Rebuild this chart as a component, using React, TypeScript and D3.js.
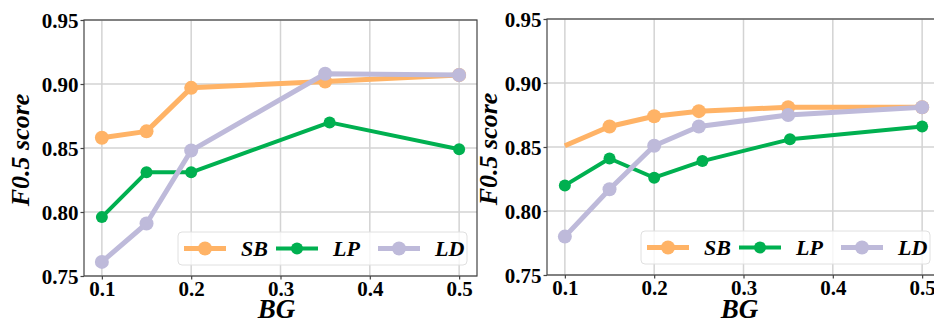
import React, { useEffect, useRef } from "react";
import * as d3 from "d3";

// x values (BG) per panel
const bgLeft = [0.1, 0.15, 0.2, 0.35, 0.5];
const bgLeftLP = [0.1, 0.15, 0.2, 0.355, 0.5];
const bgRight = [0.1, 0.15, 0.2, 0.25, 0.35, 0.5];
const bgRightLP = [0.1, 0.15, 0.2, 0.254, 0.352, 0.5];

// F0.5 scores, left panel
const sbLeft = [0.858, 0.863, 0.897, 0.902, 0.907];
const lpLeft = [0.796, 0.831, 0.831, 0.870, 0.849];
const ldLeft = [0.761, 0.791, 0.848, 0.908, 0.907];

// F0.5 scores, right panel
const sbRight = [0.851, 0.866, 0.874, 0.878, 0.881, 0.881];
const lpRight = [0.820, 0.841, 0.826, 0.839, 0.856, 0.866];
const ldRight = [0.780, 0.817, 0.851, 0.866, 0.875, 0.881];

const xTicks = [0.1, 0.2, 0.3, 0.4, 0.5];
const yTicks = [0.75, 0.8, 0.85, 0.9, 0.95];
const seriesNames = ["SB", "LP", "LD"];
const colors = ["#FFB366", "#00B050", "#BEBADA"];

const W = 934;
const H = 322;
const serif = "'Liberation Serif', 'Times New Roman', serif";

type Series = { name: string; xs: number[]; ys: number[]; noMarker?: number[] };

function drawPanel(
  svg: d3.Selection<SVGSVGElement, unknown, null, undefined>,
  left: number,
  top: number,
  labelOffset: number,
  series: Series[]
) {
  const pw = 393;
  const ph = 256;
  const g = svg.append("g").attr("transform", `translate(${left},${top})`);

  const x = d3.scaleLinear().domain([0.08, 0.52]).range([0, pw]);
  const y = d3.scaleLinear().domain([0.75, 0.95]).range([ph, 0]);

  // grid
  g.selectAll(".vgrid").data(xTicks).join("line").attr("class", "vgrid")
    .attr("x1", d => x(d)).attr("x2", d => x(d)).attr("y1", 0).attr("y2", ph)
    .attr("stroke", "#d3d3d3").attr("stroke-width", 1.5);
  g.selectAll(".hgrid").data(yTicks).join("line").attr("class", "hgrid")
    .attr("x1", 0).attr("x2", pw).attr("y1", d => y(d)).attr("y2", d => y(d))
    .attr("stroke", "#d3d3d3").attr("stroke-width", 1.5);

  // axes
  const xAxis = d3.axisBottom(x).tickValues(xTicks).tickFormat(d3.format(".1f")).tickSize(3.5).tickPadding(2);
  const yAxis = d3.axisLeft(y).tickValues(yTicks).tickFormat(d3.format(".2f")).tickSize(3.5).tickPadding(2);

  const gx = g.append("g").attr("transform", `translate(0,${ph})`).call(xAxis);
  const gy = g.append("g").call(yAxis);
  [gx, gy].forEach(a => {
    a.select(".domain").remove();
    a.selectAll(".tick line").attr("stroke", "#444").attr("stroke-width", 1.2);
    a.selectAll(".tick text")
      .style("font-family", serif).style("font-weight", "bold").style("font-size", "21px")
      .attr("fill", "#000");
  });
  gx.selectAll(".tick text").attr("dy", "0.71em");
  gy.selectAll(".tick text").attr("dy", "0.36em");

  // lines and markers
  const line = d3.line<[number, number]>().x(d => x(d[0])).y(d => y(d[1]));
  series.forEach((s, i) => {
    const pts: [number, number][] = s.xs.map((v, j) => [v, s.ys[j]]);
    const lw = s.name === "LP" ? 4 : 5;
    const r = s.name === "LP" ? 6 : 7;
    g.append("path").datum(pts).attr("d", line).attr("fill", "none")
      .attr("stroke", colors[i]).attr("stroke-width", lw).attr("stroke-linejoin", "round");
    g.selectAll(`.m${i}`).data(pts.filter((_, j) => !(s.noMarker || []).includes(j)))
      .join("circle").attr("class", `m${i}`)
      .attr("cx", d => x(d[0])).attr("cy", d => y(d[1])).attr("r", r).attr("fill", colors[i]);
  });

  // frame
  g.append("rect").attr("width", pw).attr("height", ph).attr("fill", "none")
    .attr("stroke", "#444").attr("stroke-width", 1.2);

  // axis labels
  g.append("text").attr("x", pw / 2 - 4).attr("y", H - top - 4).attr("text-anchor", "middle")
    .style("font-family", serif).style("font-weight", "bold").style("font-style", "italic")
    .style("font-size", "27px").text("BG");
  g.append("text").attr("transform", `translate(${labelOffset},${ph / 2 + 2}) rotate(-90)`)
    .attr("text-anchor", "middle")
    .style("font-family", serif).style("font-weight", "bold").style("font-style", "italic")
    .style("font-size", "26px").text("F0.5 score");

  // legend
  const lw = 289;
  const lh = 33;
  const lg = g.append("g").attr("transform", `translate(${pw - 10 - lw},${ph - 11 - lh})`);
  lg.append("rect").attr("width", lw).attr("height", lh).attr("rx", 4)
    .attr("fill", "rgba(255,255,255,0.8)").attr("stroke", "#e0e0e0").attr("stroke-width", 1);
  const offs = [6, 98, 200];
  seriesNames.forEach((n, i) => {
    const e = lg.append("g").attr("transform", `translate(${offs[i]},${lh / 2})`);
    e.append("line").attr("x1", 0).attr("x2", 42).attr("stroke", colors[i])
      .attr("stroke-width", n === "LP" ? 4 : 5);
    e.append("circle").attr("cx", 21).attr("r", n === "LP" ? 6 : 7).attr("fill", colors[i]);
    e.append("text").attr("x", 57).attr("dy", "0.34em")
      .style("font-family", serif).style("font-weight", "bold").style("font-style", "italic")
      .style("font-size", "22px").text(n);
  });
}

export default function App() {
  const ref = useRef<SVGSVGElement>(null);

  useEffect(() => {
    if (!ref.current) return;
    const svg = d3.select(ref.current);
    svg.selectAll("*").remove();
    svg.append("rect").attr("width", W).attr("height", H).attr("fill", "#fff");

    drawPanel(svg, 84, 20, -55, [
      { name: "SB", xs: bgLeft, ys: sbLeft },
      { name: "LP", xs: bgLeftLP, ys: lpLeft },
      { name: "LD", xs: bgLeft, ys: ldLeft },
    ]);
    drawPanel(svg, 547, 19, -50, [
      { name: "SB", xs: bgRight, ys: sbRight, noMarker: [0] },
      { name: "LP", xs: bgRightLP, ys: lpRight },
      { name: "LD", xs: bgRight, ys: ldRight },
    ]);
  }, []);

  return (
    <svg ref={ref} width={W} height={H}
      style={{ position: "absolute", left: 0, top: 0, display: "block" }} />
  );
}
